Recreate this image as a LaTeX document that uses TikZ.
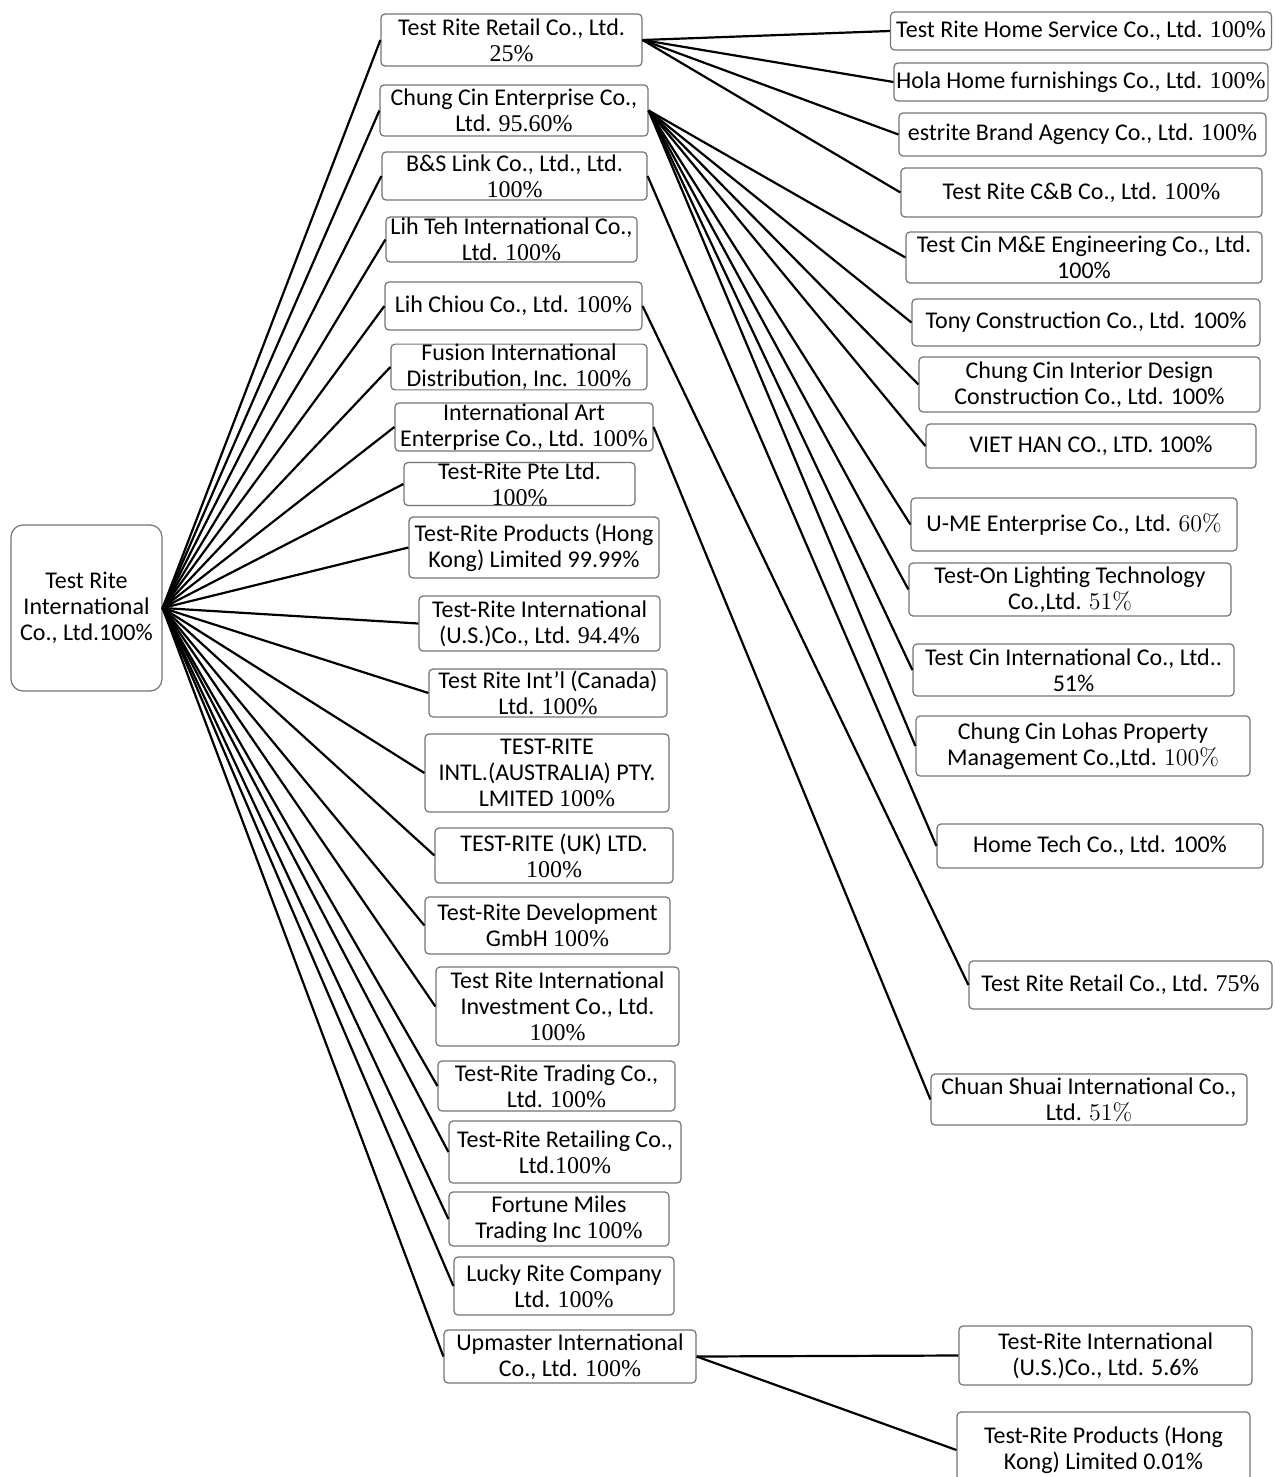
\documentclass[tikz,border=0pt]{standalone}
\usepackage{fontspec}
\setmainfont{Carlito}
\newfontfamily\tmsfont{Liberation Serif}
\newcommand{\tpc}[1]{{\tmsfont #1}}
\newcommand{\lpc}[1]{{\fontfamily{lmr}\selectfont #1}}
\tikzstyle{compbox}=[draw=black!55,rounded corners=2pt,line width=0.6pt,align=center,inner sep=0pt,font=\fontsize{12}{13}\selectfont]
\tikzstyle{rootbox}=[compbox,rounded corners=6pt]
\tikzstyle{link}=[line width=1.1pt]
\tikzset{wh/.style 2 args={minimum width=#1*0.5pt,minimum height=#2*0.5pt}}

\begin{document}
\begin{tikzpicture}[x=0.5pt,y=-0.5pt]
    \useasboundingbox (0,0) rectangle (1274,1477);
    \node[rootbox,wh={151}{166}] (root) at (86.5,608) {Test Rite\\International\\Co., Ltd.100\%};

    % first level
    \node[compbox,wh={261}{52}] (m1) at (511.5,40)   {Test Rite Retail Co., Ltd.\\\tpc{25\%}};
    \node[compbox,wh={268}{51}] (m2) at (514,110.5)  {Chung Cin Enterprise Co.,\\Ltd. \tpc{95.60\%}};
    \node[compbox,wh={265}{48}] (m3) at (514.5,176)  {B\&S Link Co., Ltd., Ltd.\\\tpc{100\%}};
    \node[compbox,wh={251}{45}] (m4) at (511.5,239.5) {Lih Teh International Co.,\\Ltd. \tpc{100\%}};
    \node[compbox,wh={257}{48}] (m5) at (513.5,306)  {Lih Chiou Co., Ltd. \tpc{100\%}};
    \node[compbox,wh={256}{44}] (m6) at (519,367)    {Fusion International\\Distribution, Inc. \tpc{100\%}};
    \node[compbox,wh={258}{48}] (m7) at (524,427)    {International Art\\Enterprise Co., Ltd. \tpc{100\%}};
    \node[compbox,wh={231}{38}] (m8) at (519.5,484)  {Test-Rite Pte Ltd.\\\tpc{100\%}};
    \node[compbox,wh={250}{61}] (m9) at (534,547.5)  {Test-Rite Products (Hong\\Kong) Limited 99.99\%};
    \node[compbox,wh={241}{55}] (m10) at (539.5,623.5) {Test-Rite International\\(U.S.)Co., Ltd. \tpc{94.4\%}};
    \node[compbox,wh={238}{48}] (m11) at (548,693)   {Test Rite Int’l (Canada)\\Ltd. \tpc{100\%}};
    \node[compbox,wh={244}{78}] (m12) at (547,773)   {TEST-RITE\\INTL.(AUSTRALIA) PTY.\\LMITED \tpc{100\%}};
    \node[compbox,wh={238}{55}] (m13) at (554,855.5) {TEST-RITE (UK) LTD.\\\tpc{100\%}};
    \node[compbox,wh={245}{57}] (m14) at (547.5,925.5) {Test-Rite Development\\GmbH \tpc{100\%}};
    \node[compbox,wh={243}{79}] (m15) at (557.5,1006.5) {Test Rite International\\Investment Co., Ltd.\\\tpc{100\%}};
    \node[compbox,wh={237}{50}] (m16) at (556.5,1086) {Test-Rite Trading Co.,\\Ltd. \tpc{100\%}};
    \node[compbox,wh={232}{62}] (m17) at (565,1152)  {Test-Rite Retailing Co.,\\Ltd.\tpc{100\%}};
    \node[compbox,wh={220}{54}] (m18) at (559,1219)  {Fortune Miles\\Trading Inc \tpc{100\%}};
    \node[compbox,wh={220}{58}] (m19) at (564,1286)  {Lucky Rite Company\\Ltd. \tpc{100\%}};
    \node[compbox,wh={252}{53}] (m20) at (570,1356.5) {Upmaster International\\Co., Ltd. \tpc{100\%}};

    % second level
    \node[compbox,wh={381}{38}] (r1) at (1081,31)     {Test Rite Home Service Co., Ltd. \tpc{100\%}};
    \node[compbox,wh={374}{38}] (r2) at (1081,82)     {Hola Home furnishings Co., Ltd. \tpc{100\%}};
    \node[compbox,wh={367}{43}] (r3) at (1082.5,134.5) {estrite Brand Agency Co., Ltd. \tpc{100\%}};
    \node[compbox,wh={361}{49}] (r4) at (1081.5,192.5) {Test Rite C\&B Co., Ltd. \tpc{100\%}};
    \node[compbox,wh={356}{51}] (r5) at (1084,257.5)  {Test Cin M\&E Engineering Co., Ltd.\\100\%};
    \node[compbox,wh={348}{47}] (r6) at (1086,322.5)  {Tony Construction Co., Ltd. 100\%};
    \node[compbox,wh={341}{55}] (r7) at (1089.5,384.5) {Chung Cin Interior Design\\Construction Co., Ltd. 100\%};
    \node[compbox,wh={330}{44}] (r8) at (1091,446)    {VIET HAN CO., LTD. 100\%};
    \node[compbox,wh={326}{53}] (r9) at (1074,524.5)  {U-ME Enterprise Co., Ltd. \lpc{60\%}};
    \node[compbox,wh={322}{53}] (r10) at (1070,589.5) {Test-On Lighting Technology\\Co.,Ltd. \lpc{51\%}};
    \node[compbox,wh={321}{52}] (r11) at (1073.5,670) {Test Cin International Co., Ltd..\\51\%};
    \node[compbox,wh={334}{60}] (r12) at (1083,746)   {Chung Cin Lohas Property\\Management Co.,Ltd. \lpc{100\%}};
    \node[compbox,wh={326}{44}] (r13) at (1100,846)   {Home Tech Co., Ltd. 100\%};
    \node[compbox,wh={303}{48}] (r14) at (1120.5,985) {Test Rite Retail Co., Ltd. \tpc{75\%}};
    \node[compbox,wh={316}{51}] (r15) at (1089,1099.5) {Chuan Shuai International Co.,\\Ltd. \lpc{51\%}};
    \node[compbox,wh={293}{59}] (r16) at (1105.5,1355.5) {Test-Rite International\\(U.S.)Co., Ltd. 5.6\%};
    \node[compbox,wh={293}{76}] (r17) at (1103.5,1450) {Test-Rite Products (Hong\\Kong) Limited 0.01\%};

    \foreach \i in {1,...,20}
    \draw[link] (root.east) -- (m\i.west);
    \foreach \i in {1,...,4}
    \draw[link] (m1.east) -- (r\i.west);
    \foreach \i in {5,...,12}
    \draw[link] (m2.east) -- (r\i.west);
    \foreach \from/\to in {m3/r13,m5/r14,m7/r15,m20/r16,m20/r17}
    \draw[link] (\from.east) -- (\to.west);
\end{tikzpicture}
\end{document}
